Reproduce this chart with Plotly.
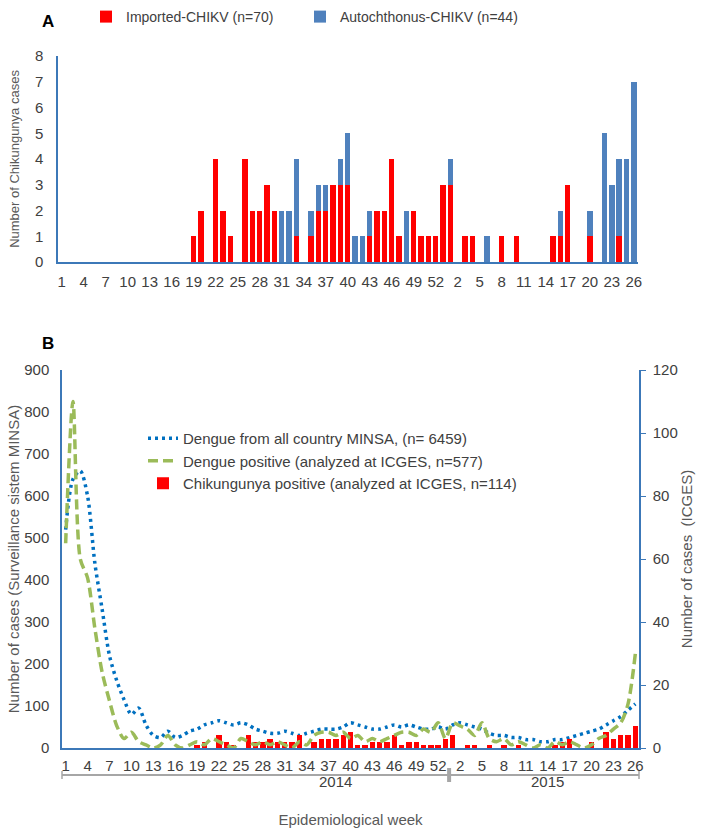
import plotly.graph_objects as go

W, H = 705, 839

# ---------------- data ----------------
weeks_2014 = list(range(1, 54))   # epidemiological weeks 2014 (53 weeks)
weeks_2015 = list(range(1, 27))   # epidemiological weeks 2015
week_labels = [str(w) for w in weeks_2014 + weeks_2015]
year_labels = ["2014", "2015"]

imported = [0] * 18 + [1, 2, 0, 4, 2, 1, 0, 4, 2, 2, 3, 2, 0, 0, 1, 0, 1, 2, 2, 3, 3, 3,
                       0, 0, 1, 2, 2, 4, 1, 0, 2, 1, 1, 1, 3] + \
           [3, 0, 1, 1, 0, 0, 0, 1, 0, 1, 0, 0, 0, 0, 1, 1, 3, 0, 0, 1, 0, 0, 0, 1, 0, 0]
autochthonous = [0] * 30 + [2, 2, 3, 0, 1, 1, 1, 0, 1, 2, 1, 1, 1, 0, 0, 0, 0, 2,
                            0, 0, 0, 0, 0] + \
                [1, 0, 0, 0, 0, 1, 0, 0, 0, 0, 0, 0, 0, 0, 0, 1, 0, 0, 0, 1, 0, 5, 3, 3, 4, 7]

dengue_minsa = [520, 640, 660, 600, 440, 330, 220, 160, 115, 80, 95, 55,
                30, 25, 40, 25, 30, 40, 45, 55, 60, 65, 60, 55, 60, 55, 45, 40, 35, 35,
                40, 35, 30, 35, 40, 45, 45, 45, 50, 60, 55, 50, 45, 45, 50, 55, 50, 55,
                50, 45, 45, 50, 45] + \
               [55, 60, 55, 50, 45, 35, 30, 30, 25, 25, 20, 20, 15, 15, 20, 20, 25, 30,
                35, 40, 45, 55, 65, 75, 90, 105]
dengue_icges = [65, 110, 60, 54, 38, 24, 15, 7, 3, 5, 2, 1,
                0, 1, 4, 1, 0, 1, 2, 1, 3, 2, 1, 0, 3, 2, 1, 2, 1, 2, 1, 0, 2, 1, 4, 5,
                5, 4, 5, 3, 4, 2, 3, 2, 3, 4, 5, 5, 4, 6, 5, 8, 3] + \
               [8, 7, 6, 4, 8, 3, 2, 3, 1, 2, 1, 0, 1, 0, 2, 1, 2, 1, 0, 1, 3, 4, 6, 8, 14, 30]
chik_total = [a + b for a, b in zip(imported, autochthonous)]

pos = list(range(1, len(week_labels) + 1))
tick_pos = pos[::3]
tick_text = week_labels[::3]
year_pos = [38, 67]

# ---------------- style ----------------
FONT = "Liberation Sans, Arial, sans-serif"
AX = "#3c78b8"
TXT = "#404040"
TTL = "#595959"
RED = "#ff0000"
BLUE = "#4f81bd"


def fx(p):
    return p / W


def fy(p):
    return 1 - p / H


fig = go.Figure()

fig.add_trace(go.Bar(x=pos, y=imported, name="Imported-CHIKV (n=70)",
                     marker=dict(color=RED, line=dict(width=0)), showlegend=True,
                     xaxis="x", yaxis="y", legend="legend"))
fig.add_trace(go.Bar(x=pos, y=autochthonous, name="Autochthonus-CHIKV (n=44)",
                     marker=dict(color=BLUE, line=dict(width=0)), showlegend=True,
                     xaxis="x", yaxis="y", legend="legend3"))

fig.add_trace(go.Scatter(x=pos, y=dengue_minsa, name="Dengue from all country MINSA, (n= 6459)",
                         mode="lines", line=dict(color="#0070c0", width=3.5, dash="3px,4px",
                                                 shape="spline", smoothing=0.8),
                         xaxis="x2", yaxis="y2", legend="legend2", legendgroup="g1"))
fig.add_trace(go.Scatter(x=pos, y=dengue_icges, name="Dengue positive (analyzed at ICGES, n=577)",
                         mode="lines", line=dict(color="#9bbb59", width=3.5, dash="10px,5px",
                                                 shape="spline", smoothing=0.8),
                         xaxis="x2", yaxis="y3", legend="legend2", legendgroup="g2"))
fig.add_trace(go.Bar(x=pos, y=chik_total, name="Chikungunya positive (analyzed at ICGES, n=114)",
                     marker=dict(color=RED, line=dict(width=0)),
                     xaxis="x2", yaxis="y3", legend="legend2", legendgroup="g3"))

tickfont = dict(family=FONT, size=15, color=TXT)
titlefontA = dict(family=FONT, size=13, color=TTL)
titlefontB = dict(family=FONT, size=15, color=TTL)
legfontA = dict(family=FONT, size=14, color=TXT)

fig.update_layout(
    width=W, height=H, autosize=False, showlegend=True,
    margin=dict(l=0, r=0, t=0, b=0, pad=0, autoexpand=False),
    paper_bgcolor="white", plot_bgcolor="white",
    font=dict(family=FONT, size=14, color=TXT),
    barmode="stack", bargap=0.27,
    xaxis=dict(domain=[fx(58), fx(637.5)], range=[0.5, 79.5], anchor="y", automargin=False,
               tickmode="array", tickvals=tick_pos, ticktext=tick_text, tickangle=0,
               showline=True, linecolor=AX, linewidth=1.5, ticks="", showgrid=False,
               zeroline=False, tickfont=tickfont, ticklabelstandoff=5),
    yaxis=dict(domain=[fy(262), fy(56)], range=[0, 8], dtick=1, anchor="x", automargin=False,
               showline=True, linecolor=AX, linewidth=1.5, ticks="", showgrid=False,
               zeroline=False, tickfont=tickfont, ticklabelstandoff=10,
               title=dict(text="Number of Chikungunya cases", font=titlefontA, standoff=12)),
    xaxis2=dict(domain=[fx(62), fx(639)], range=[0.5, 79.5], anchor="y2", automargin=False,
                tickmode="array", tickvals=tick_pos, ticktext=tick_text, tickangle=0,
                showline=True, linecolor=AX, linewidth=1.5, ticks="", showgrid=False,
                zeroline=False, tickfont=tickfont, ticklabelstandoff=3,
                title=dict(text="Epidemiological week", font=titlefontB, standoff=42)),
    yaxis2=dict(domain=[fy(748), fy(370)], range=[0, 900], dtick=100, anchor="x2",
                automargin=False,
                showline=True, linecolor=AX, linewidth=1.5, ticks="", showgrid=False,
                zeroline=False, tickfont=tickfont, ticklabelstandoff=8,
                title=dict(text="Number of cases (Surveillance sistem MINSA)", font=titlefontB,
                           standoff=1)),
    yaxis3=dict(range=[0, 120], dtick=20, anchor="x2", overlaying="y2", side="right",
                automargin=False,
                showline=True, linecolor=AX, linewidth=1.5, ticks="outside", ticklen=5,
                tickcolor=AX, showgrid=False, zeroline=False, tickfont=tickfont,
                ticklabelstandoff=4,
                title=dict(text="Number of cases&nbsp; (ICGES)", font=titlefontB, standoff=5)),
    legend=dict(orientation="h", x=fx(86), y=fy(1), xanchor="left", yanchor="top",
                font=legfontA, bgcolor="rgba(0,0,0,0)", itemwidth=30, visible=True),
    legend3=dict(orientation="h", x=fx(300), y=fy(1), xanchor="left", yanchor="top",
                 font=legfontA, bgcolor="rgba(0,0,0,0)", itemwidth=30, visible=True),
    legend2=dict(orientation="v", x=fx(143), y=fy(422), xanchor="left", yanchor="top",
                 traceorder="normal",
                 font=dict(family=FONT, size=15, color=TXT), bgcolor="rgba(0,0,0,0)",
                 tracegroupgap=12, itemwidth=30, visible=True),
)

# panel letters
fig.add_annotation(text="<b>A</b>", x=fx(40), y=fy(10), xref="paper", yref="paper",
                   showarrow=False, font=dict(family=FONT, size=17, color="black"))
fig.add_annotation(text="<b>B</b>", x=fx(40), y=fy(343), xref="paper", yref="paper",
                   showarrow=False, font=dict(family=FONT, size=17, color="black"))

# year axis under panel B
GREY = "#a6a6a6"
fig.add_shape(type="line", xref="paper", yref="paper", x0=fx(62), x1=fx(639),
              y0=fy(775), y1=fy(775), line=dict(color=GREY, width=2))
for xe in (62, 639):
    fig.add_shape(type="line", xref="paper", yref="paper", x0=fx(xe), x1=fx(xe),
                  y0=fy(771), y1=fy(779), line=dict(color=GREY, width=1.5))
fig.add_shape(type="line", xref="x2", yref="paper", x0=53.5, x1=53.5,
              y0=fy(768), y1=fy(782), line=dict(color=GREY, width=4))
for xp, lab in zip(year_pos, year_labels):
    fig.add_annotation(text=lab, x=xp, y=fy(792), xref="x2", yref="paper",
                       showarrow=False, font=dict(family=FONT, size=15, color=TXT))

fig.write_html("out.html", post_script="document.body.style.margin='0';",
               config={"displayModeBar": False})
